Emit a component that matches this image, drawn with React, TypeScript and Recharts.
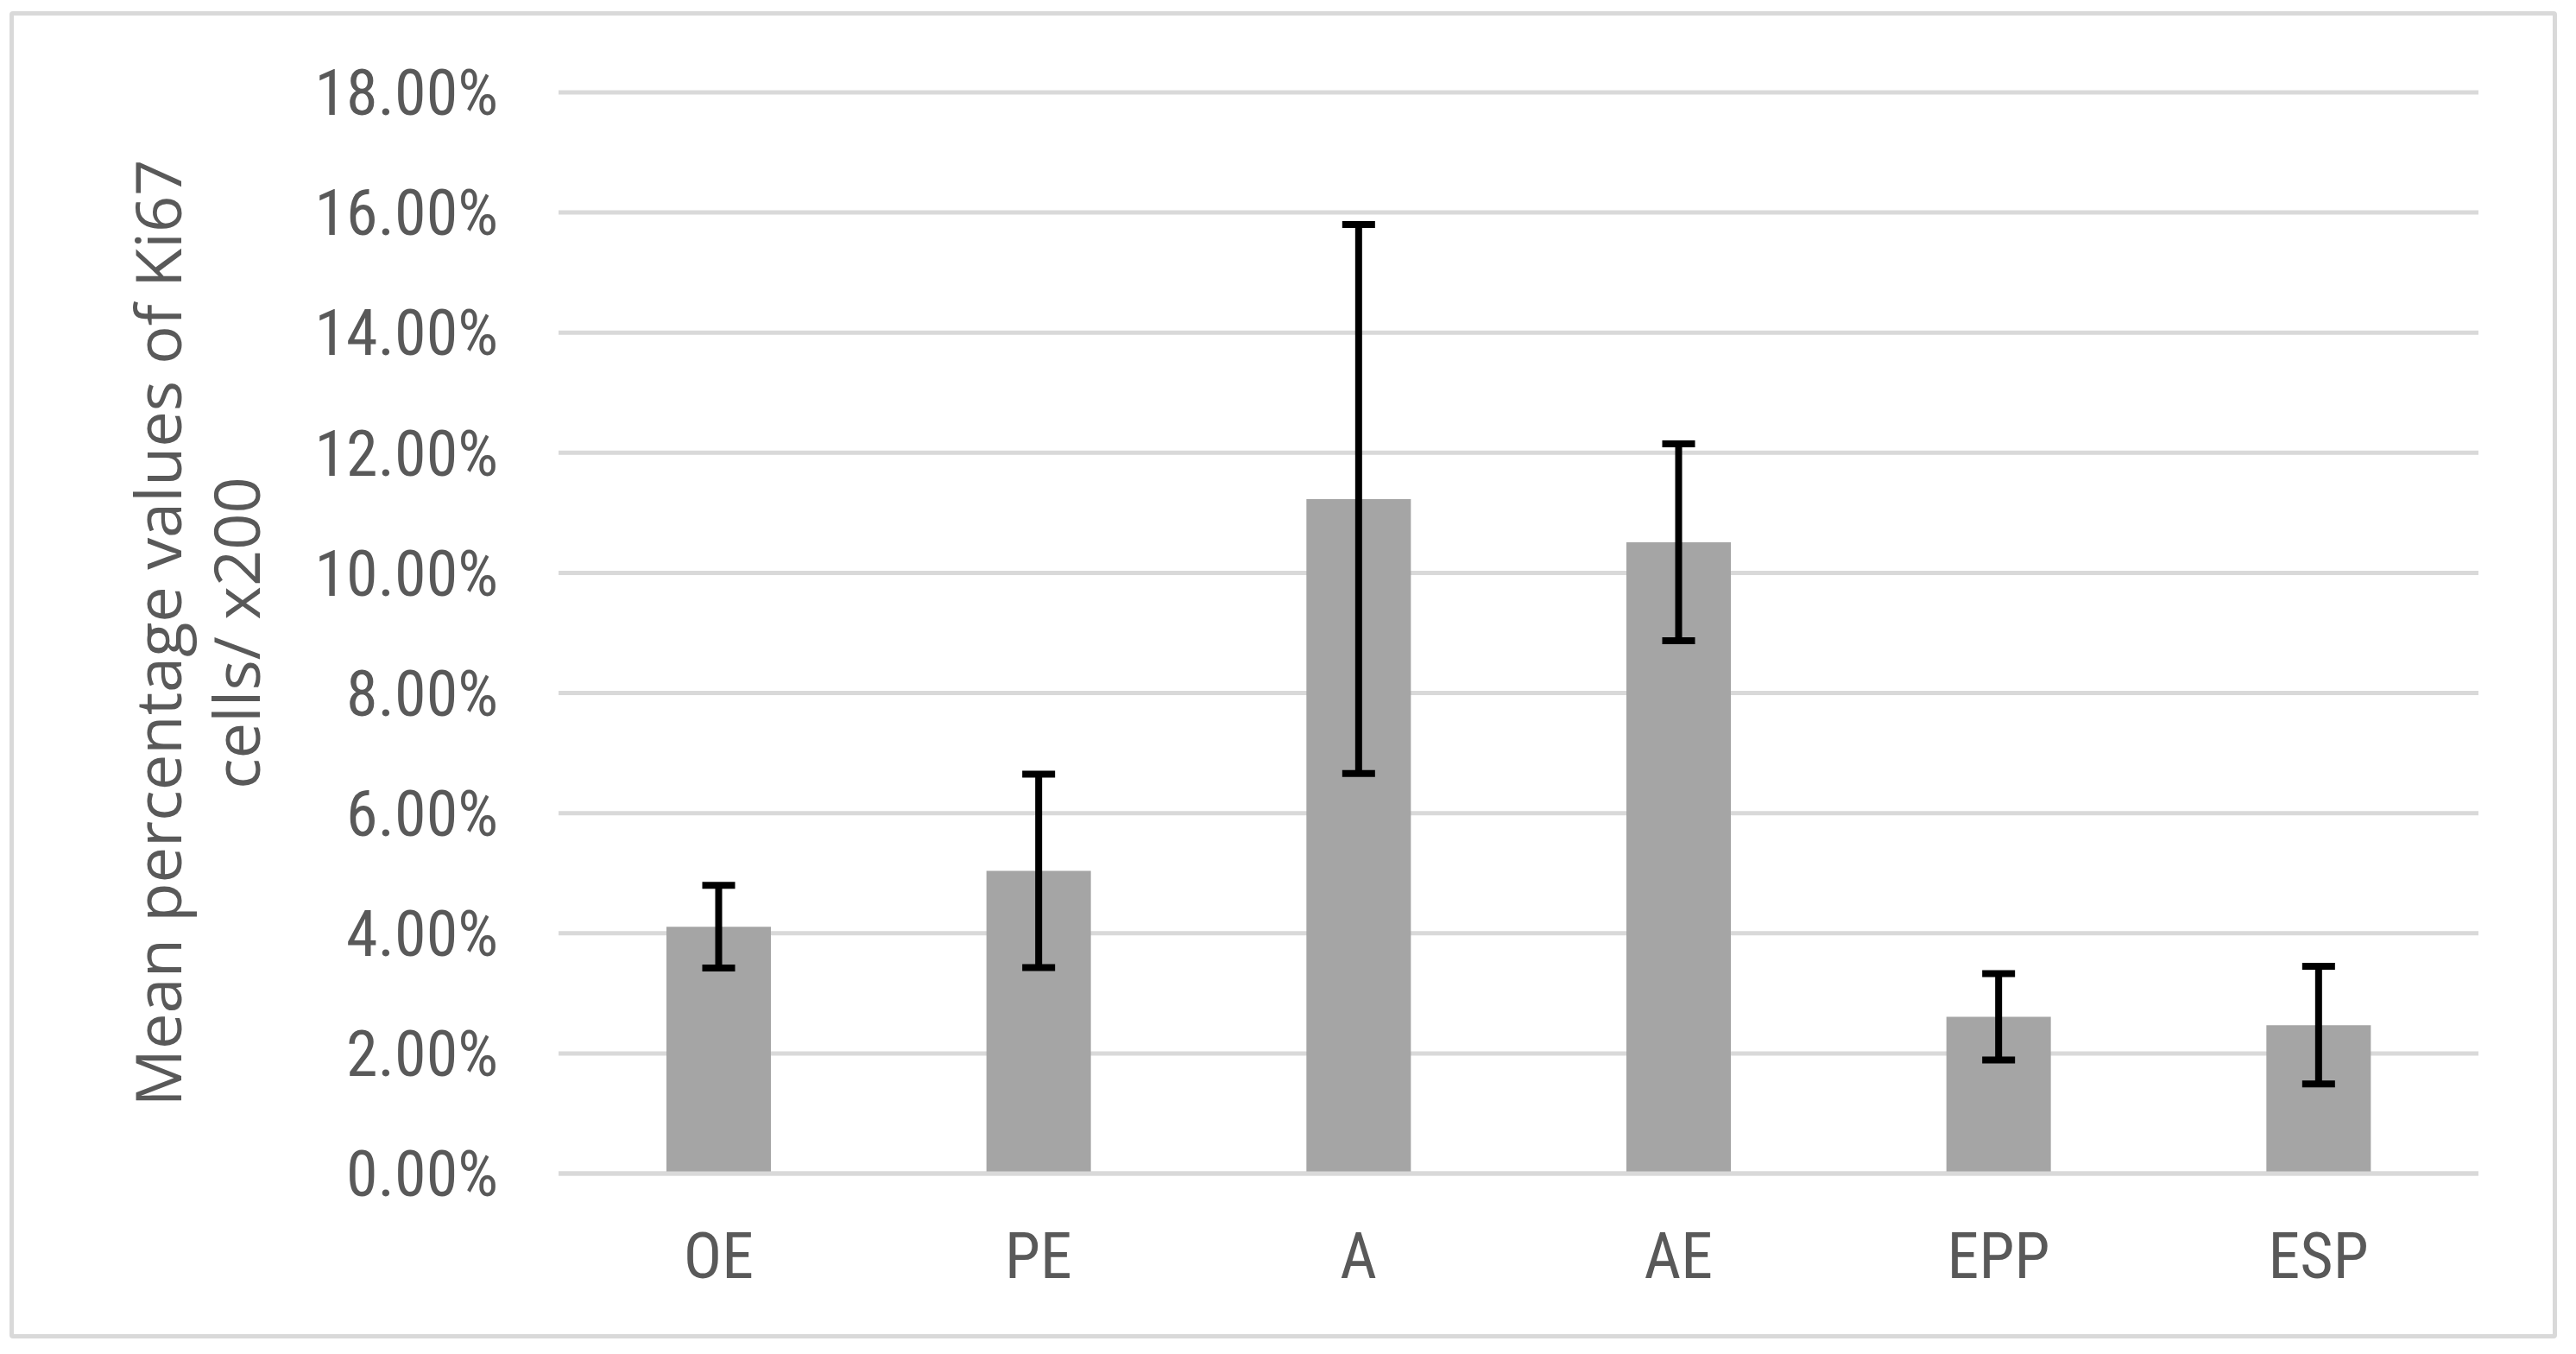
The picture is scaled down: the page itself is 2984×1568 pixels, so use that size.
import { BarChart, Bar, XAxis, YAxis, CartesianGrid, ErrorBar } from "recharts";

const CATEGORIES = ["OE", "PE", "A", "AE", "EPP", "ESP"];
const MEANS = [4.11, 5.04, 11.23, 10.51, 2.61, 2.47];
const ERRORS = [0.69, 1.61, 4.57, 1.64, 0.72, 0.98];
const Y_TICKS = [0, 2, 4, 6, 8, 10, 12, 14, 16, 18];
const TITLE_LINES = ["Mean percentage values of Ki67", "cells/ x200"];

const data = CATEGORIES.map((name, i) => ({ name, mean: MEANS[i], err: ERRORS[i] }));

const TEXT = "#595959";
const GRID = "#d9d9d9";
const TICK_FONT = "'Liberation Sans Narrow', 'Roboto Condensed', 'Open Sans', sans-serif";

function AxisTitle(props: any) {
  const vb = props.viewBox || { x: 0, y: 0, width: 0, height: 0 };
  const cy = vb.y + vb.height / 2;
  const xs = [181, 272];
  return (
    <g>
      {TITLE_LINES.map((line, i) => (
        <text
          key={line}
          x={xs[i]}
          y={cy}
          transform={`rotate(-90, ${xs[i]}, ${cy})`}
          textAnchor="middle"
          dominantBaseline="central"
          fill={TEXT}
          fontSize={74}
          fontFamily="'Open Sans', sans-serif"
        >
          {line}
        </text>
      ))}
    </g>
  );
}

export default function App() {
  return (
    <div style={{ position: "absolute", left: 0, top: 0, width: 2984, height: 1568, background: "#fff" }}>
      <div
        style={{
          position: "absolute",
          left: 11,
          top: 13,
          width: 2951,
          height: 1537,
          border: `5px solid ${GRID}`,
          borderRadius: 4,
          boxSizing: "border-box",
        }}
      />
      <BarChart
        width={2984}
        height={1568}
        data={data}
        margin={{ top: 107, right: 113, bottom: 179, left: 0 }}
        style={{ position: "absolute", left: 0, top: 0 }}
      >
        <CartesianGrid vertical={false} stroke={GRID} strokeWidth={5} />
        <XAxis
          dataKey="name"
          height={30}
          axisLine={{ stroke: GRID, strokeWidth: 5 }}
          tickLine={false}
          tickSize={0}
          tickMargin={68}
          tick={{ fill: TEXT, fontSize: 74, fontFamily: TICK_FONT }}
        />
        <YAxis
          width={647}
          domain={[0, 18]}
          ticks={Y_TICKS}
          interval={0}
          axisLine={false}
          tickLine={false}
          tickSize={0}
          tickMargin={70}
          tickFormatter={(v: number) => `${v.toFixed(2)}%`}
          tick={{ fill: TEXT, fontSize: 74, fontFamily: TICK_FONT }}
          label={{ content: (p: any) => <AxisTitle {...p} /> }}
        />
        <Bar dataKey="mean" fill="#a5a5a5" barSize={121} isAnimationActive={false}>
          <ErrorBar dataKey="err" width={19} strokeWidth={8} stroke="#000" isAnimationActive={false} />
        </Bar>
      </BarChart>
    </div>
  );
}
